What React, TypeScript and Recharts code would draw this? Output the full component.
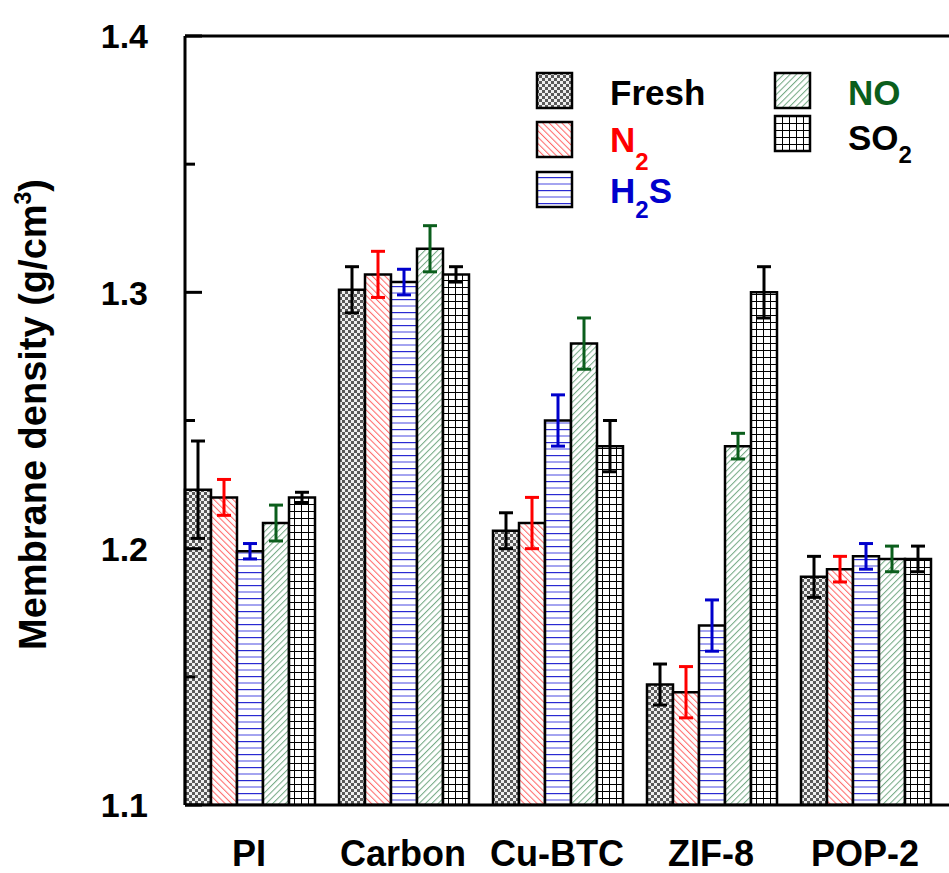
import { BarChart, Bar, XAxis, YAxis, ErrorBar, Legend, ReferenceLine } from 'recharts';

const FONT = '"Liberation Sans", Arial, Helvetica, sans-serif';

const CATEGORIES = ['PI', 'Carbon', 'Cu-BTC', 'ZIF-8', 'POP-2'];

const FRESH = [1.223, 1.301, 1.207, 1.147, 1.189];
const FRESH_ERR = [0.019, 0.009, 0.007, 0.008, 0.008];
const N2 = [1.22, 1.307, 1.21, 1.144, 1.192];
const N2_ERR = [0.007, 0.009, 0.01, 0.01, 0.005];
const H2S = [1.199, 1.304, 1.25, 1.17, 1.197];
const H2S_ERR = [0.003, 0.005, 0.01, 0.01, 0.005];
const NO = [1.21, 1.317, 1.28, 1.24, 1.196];
const NO_ERR = [0.007, 0.009, 0.01, 0.005, 0.005];
const SO2 = [1.22, 1.307, 1.24, 1.3, 1.196];
const SO2_ERR = [0.002, 0.003, 0.01, 0.01, 0.005];

const Y_TICKS = [1.1, 1.15, 1.2, 1.25, 1.3, 1.35, 1.4];

const SERIES = [
  { key: 'fresh', pattern: 'pFresh', err: '#000000' },
  { key: 'n2', pattern: 'pN2', err: '#ff0000' },
  { key: 'h2s', pattern: 'pH2S', err: '#0000cc' },
  { key: 'no', pattern: 'pNO', err: '#0b5e1c' },
  { key: 'so2', pattern: 'pSO2', err: '#000000' },
];

const data = CATEGORIES.map((name, i) => ({
  name,
  fresh: FRESH[i],
  freshErr: FRESH_ERR[i],
  n2: N2[i],
  n2Err: N2_ERR[i],
  h2s: H2S[i],
  h2sErr: H2S_ERR[i],
  no: NO[i],
  noErr: NO_ERR[i],
  so2: SO2[i],
  so2Err: SO2_ERR[i],
}));

const isMajor = (v: number) => Math.abs(v * 10 - Math.round(v * 10)) < 1e-6;

const LeftTick = ({ x = 0, y = 0, payload }: any) => {
  const v = payload?.value ?? 0;
  const major = isMajor(v);
  return (
    <g>
      <line x1={x} y1={y} x2={x + (major ? 17 : 10)} y2={y} stroke="#000" strokeWidth={3} />
      {major && (
        <text
          x={x - 37}
          y={y}
          dy="0.36em"
          textAnchor="end"
          fontFamily={FONT}
          fontWeight="bold"
          fontSize={34}
          fill="#000"
        >
          {v.toFixed(1)}
        </text>
      )}
    </g>
  );
};

const RightTick = ({ x = 0, y = 0, payload }: any) => {
  const major = isMajor(payload?.value ?? 0);
  return <line x1={x - (major ? 17 : 10)} y1={y} x2={x} y2={y} stroke="#000" strokeWidth={3} />;
};

const YTitle = ({ viewBox }: any) => {
  const cx = 46;
  const cy = (viewBox?.y ?? 36) + (viewBox?.height ?? 769) / 2 - 6;
  return (
    <text
      x={cx}
      y={cy}
      transform={`rotate(-90, ${cx}, ${cy})`}
      textAnchor="middle"
      fontFamily={FONT}
      fontWeight="bold"
      fontSize={38}
      fill="#000"
    >
      <tspan>Membrane density (g/cm</tspan>
      <tspan dy={-15} fontSize={23}>3</tspan>
      <tspan dy={15}>)</tspan>
    </text>
  );
};

const renderLegend = () => {
  const txt = { fontFamily: FONT, fontWeight: 'bold' as const, fontSize: 35 };
  const sw = (x: number, y: number, p: string) => (
    <rect x={x} y={y} width={35} height={35} fill={`url(#${p})`} stroke="#000" strokeWidth={2.5} />
  );
  return (
    <svg width={420} height={170}>
      {sw(7, 13, 'pFresh')}
      <text x={80} y={45} fill="#000" {...txt}>Fresh</text>
      {sw(7, 62, 'pN2')}
      <text x={80} y={92} fill="#ff0000" {...txt}>
        <tspan>N</tspan>
        <tspan dy={18} fontSize={24}>2</tspan>
      </text>
      {sw(7, 112, 'pH2S')}
      <text x={80} y={143} fill="#0000cc" {...txt}>
        <tspan>H</tspan>
        <tspan dy={15} fontSize={24}>2</tspan>
        <tspan dy={-15}>S</tspan>
      </text>
      {sw(245, 13, 'pNO')}
      <text x={318} y={45} fill="#0b5e1c" {...txt}>NO</text>
      {sw(245, 56, 'pSO2')}
      <text x={318} y={90} fill="#000" {...txt}>
        <tspan>SO</tspan>
        <tspan dy={13} fontSize={24}>2</tspan>
      </text>
    </svg>
  );
};

export default function App() {
  return (
    <div
      style={{
        position: 'fixed',
        left: 0,
        top: 0,
        width: 949,
        height: 873,
        overflow: 'hidden',
        background: '#fff',
      }}
    >
      <BarChart
        width={980}
        height={873}
        data={data}
        margin={{ top: 36, right: 25, bottom: 0, left: 0 }}
        barCategoryGap={13}
        barGap={0}
      >
        <defs>
          <pattern id="pFresh" width={6} height={6} patternUnits="userSpaceOnUse">
            <rect width={6} height={6} fill="#efefef" />
            <rect width={3} height={3} fill="#5a5a5a" />
            <rect x={3} y={3} width={3} height={3} fill="#5a5a5a" />
          </pattern>
          <pattern id="pN2" width={4.5} height={4.5} patternUnits="userSpaceOnUse" patternTransform="rotate(-45)">
            <rect width={4.5} height={4.5} fill="#fff" />
            <line x1={0.5} y1={0} x2={0.5} y2={4.5} stroke="#ff6a6a" strokeWidth={1.1} />
          </pattern>
          <pattern id="pH2S" width={10} height={13} patternUnits="userSpaceOnUse">
            <rect width={10} height={13} fill="#fff" />
            <line x1={0} y1={0.6} x2={10} y2={0.6} stroke="#2a2ad2" strokeWidth={1.2} />
            <line x1={0} y1={7} x2={10} y2={7} stroke="#a4a4f0" strokeWidth={2} />
          </pattern>
          <pattern id="pNO" width={4.5} height={4.5} patternUnits="userSpaceOnUse" patternTransform="rotate(45)">
            <rect width={4.5} height={4.5} fill="#fff" />
            <line x1={0.5} y1={0} x2={0.5} y2={4.5} stroke="#76aa86" strokeWidth={1.1} />
          </pattern>
          <pattern id="pSO2" width={7} height={7} patternUnits="userSpaceOnUse">
            <rect width={7} height={7} fill="#fff" />
            <line x1={0.5} y1={0} x2={0.5} y2={7} stroke="#000" strokeWidth={1} />
            <line x1={0} y1={0.5} x2={7} y2={0.5} stroke="#000" strokeWidth={1} />
          </pattern>
        </defs>
        <XAxis
          dataKey="name"
          height={68}
          padding={{ left: -13, right: 13 }}
          tickLine={false}
          tickSize={0}
          tickMargin={35}
          interval={0}
          axisLine={{ stroke: '#000', strokeWidth: 3 }}
          tick={{ fontFamily: FONT, fontWeight: 'bold', fontSize: 36, fill: '#000' }}
        />
        <YAxis
          type="number"
          width={185}
          domain={[1.1, 1.4]}
          ticks={Y_TICKS}
          interval={0}
          allowDataOverflow
          tickLine={false}
          tickSize={0}
          tickMargin={0}
          tick={<LeftTick />}
          axisLine={{ stroke: '#000', strokeWidth: 3 }}
          label={<YTitle />}
        />
        <YAxis
          yAxisId="right"
          orientation="right"
          type="number"
          width={0}
          domain={[1.1, 1.4]}
          ticks={Y_TICKS}
          interval={0}
          allowDataOverflow
          tickLine={false}
          tickSize={0}
          tickMargin={0}
          tick={<RightTick />}
          axisLine={{ stroke: '#000', strokeWidth: 3 }}
        />
        <ReferenceLine y={1.4} stroke="#000" strokeWidth={3} ifOverflow="visible" />
        {SERIES.map((s) => (
          <Bar
            key={s.key}
            dataKey={s.key}
            fill={`url(#${s.pattern})`}
            stroke="#000"
            strokeWidth={2.5}
            isAnimationActive={false}
          >
            <ErrorBar dataKey={`${s.key}Err`} width={7} strokeWidth={3} stroke={s.err} />
          </Bar>
        ))}
        <Legend
          content={renderLegend}
          layout="horizontal"
          verticalAlign="middle"
          align="center"
          wrapperStyle={{ position: 'absolute', left: 530, top: 60, width: 420, height: 170 }}
        />
      </BarChart>
    </div>
  );
}
